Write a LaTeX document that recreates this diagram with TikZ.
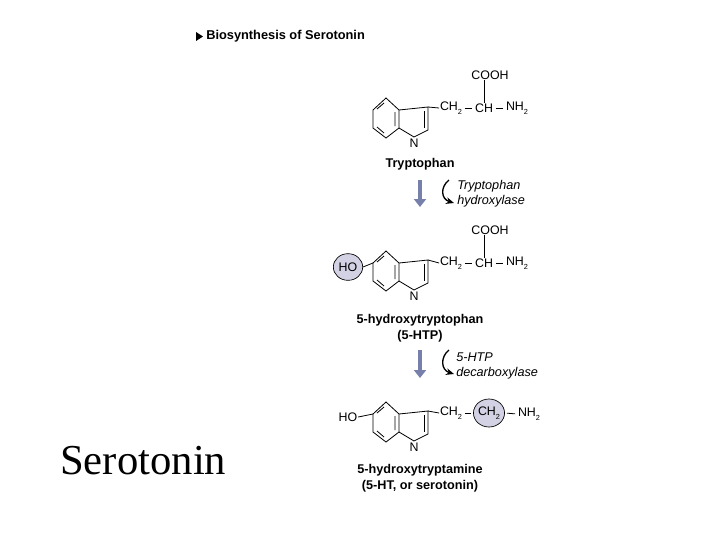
\documentclass[tikz,border=0pt]{standalone}
\usepackage{fontspec}
\usetikzlibrary{shapes.geometric,arrows.meta}
\setmainfont{Liberation Sans}
\newfontfamily\serif{Liberation Serif}
\newcommand{\lowtwo}{\raisebox{-0.6ex}{\fontsize{5.5}{6}\selectfont 2}}
\definecolor{hlfill}{RGB}{210,210,228}
\begin{document}
\begin{tikzpicture}[x=0.75pt,y=-0.75pt,
  chem/.style={inner sep=0.5pt,font=\fontsize{9.3}{12}\selectfont},
  lbl/.style={inner sep=0pt,font=\fontsize{9.5}{12}\selectfont\bfseries,align=center},
  enz/.style={inner sep=0pt,font=\fontsize{9.5}{11.5}\selectfont\itshape,align=left,anchor=west},
  bond/.style={line width=0.6pt},
  gbond/.style={line width=0.6pt,shorten <=1.5pt,shorten >=1.5pt},
  hl/.style={fill=hlfill,draw=black,line width=0.5pt,ellipse,inner sep=0pt},
  bigarrow/.style={line width=3.2pt,-{Triangle[length=6pt,width=9pt]},color={rgb,255:red,118;green,128;blue,170}},
  curvarrow/.style={line width=1pt,-{Stealth[length=6pt,width=5pt]}}]
\useasboundingbox (0,0) rectangle (720,540);
\fill[white] (0,0) rectangle (720,540);
\fill (196,32) -- (196,41) -- (203,36.5) -- cycle;
\node[anchor=west,inner sep=0pt,font=\fontsize{9.6}{12}\selectfont\bfseries] (title) at (206,36) {Biosynthesis of Serotonin};
\node[anchor=west,inner sep=0pt,font=\serif\fontsize{32}{34}\selectfont] (sero) at (60,461) {Serotonin};

% indole macro
\newcommand{\indole}[3]{%
 \begin{scope}[shift={(#1,#2)}]
 \coordinate (#3t) at (0,-20); \coordinate (#3ur) at (13,-8); \coordinate (#3lr) at (13,10);
 \coordinate (#3b) at (0,20); \coordinate (#3ll) at (-13,10); \coordinate (#3ul) at (-13,-8);
 \coordinate (#3c3) at (42,-11); \coordinate (#3c2) at (42,12); \coordinate (#3n) at (28,19);
 \draw[bond] (#3t)--(#3ur)--(#3lr)--(#3b)--(#3ll)--(#3ul)--cycle;
 \draw[bond] (-2,-15)--(-9,-9) (-9,9)--(-2,15) (9,-6)--(9,8);
 \draw[bond] (#3ur)--(#3c3)--(#3c2)--(#3n)--(#3lr);
 \draw[bond] (38,-7)--(38,10);
 \node[chem] (#3N) at (28,25) {N};
 \end{scope}}

% molecule 1
\indole{386}{118}{a}
\node[chem] (aCH2) at (451,108) {CH\lowtwo};
\node[chem] (aCH) at (484,108) {CH};
\node[chem] (aNH2) at (517,108) {NH\lowtwo};
\node[chem] (aCOOH) at (490,75) {COOH};
\draw[bond] (ac3) -- (aCH2.west);
\draw[gbond] (aCH2.east) -- (aCH.west);
\draw[gbond] (aCH.east) -- (aNH2.west);
\draw[bond] (aCOOH.south -| aCH.north) -- (aCH.north);
\node[lbl] (trp) at (420,164) {Tryptophan};
\coordinate (ar1s) at (420,180); \coordinate (ar1e) at (420,207);
\draw[bigarrow] (ar1s) -- (ar1e);
\coordinate (cu1s) at (449,180); \coordinate (cu1e) at (454,203);
\draw[curvarrow] (cu1s) .. controls (440,187) and (441,199) .. (cu1e);
\node[enz] (enz1) at (457,194) {Tryptophan\\hydroxylase};

% molecule 2
\indole{386}{271}{b}
\node[chem] (bCH2) at (451,263) {CH\lowtwo};
\node[chem] (bCH) at (484,263) {CH};
\node[chem] (bNH2) at (517,263) {NH\lowtwo};
\node[chem] (bCOOH) at (490,230) {COOH};
\draw[bond] (bc3) -- (bCH2.west);
\draw[gbond] (bCH2.east) -- (bCH.west);
\draw[gbond] (bCH.east) -- (bNH2.west);
\draw[bond] (bCOOH.south -| bCH.north) -- (bCH.north);
\node[chem,hl,minimum width=22pt,minimum height=20pt] (bHO) at (348,267) {HO};
\draw[bond] (bHO.east) -- (bul);
\node[lbl] (htp) at (420,328) {5-hydroxytryptophan\\(5-HTP)};
\coordinate (ar2s) at (420,350); \coordinate (ar2e) at (420,378);
\draw[bigarrow] (ar2s) -- (ar2e);
\coordinate (cu2s) at (449,350); \coordinate (cu2e) at (454,374);
\draw[curvarrow] (cu2s) .. controls (440,357) and (441,370) .. (cu2e);
\node[enz] (enz2) at (456,366) {5-HTP\\decarboxylase};

% molecule 3
\indole{386}{422}{c}
\node[chem] (cCH2) at (451,413) {CH\lowtwo};
\node[chem,hl,minimum width=19pt,minimum height=21pt] (cCH2b) at (489,413) {CH\lowtwo};
\node[chem] (cNH2) at (529,414) {NH\lowtwo};
\draw[bond] (cc3) -- (cCH2.west);
\draw[gbond] (cCH2.east) -- (cCH2b.west);
\draw[gbond] (cCH2b.east) -- (cNH2.west);
\node[chem] (cHO) at (348,417) {HO};
\draw[bond] (cHO.east) -- (cul);
\node[lbl] (sht) at (420,478) {5-hydroxytryptamine\\(5-HT, or serotonin)};
\end{tikzpicture}
\end{document}
